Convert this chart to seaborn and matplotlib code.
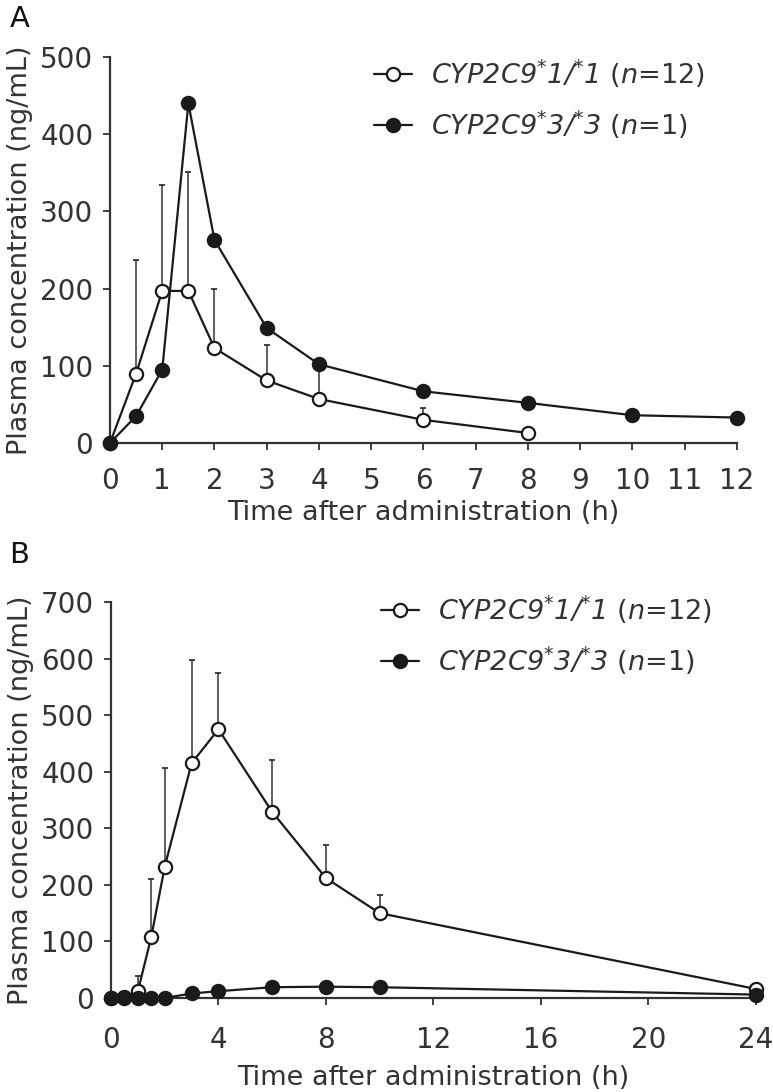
import numpy as np
import pandas as pd
import matplotlib
matplotlib.use("Agg")
import matplotlib.pyplot as plt
import seaborn as sns

# ---------------- data ----------------
A_t_wt = [0, 0.5, 1, 1.5, 2, 3, 4, 6, 8]
A_wt = [0, 90, 197, 197, 123, 81, 57, 30, 13]
A_wt_upper = [0, 237, 334, 351, 200, 127, 94, 45, 13]

A_t_m = [0, 0.5, 1, 1.5, 2, 3, 4, 6, 8, 10, 12]
A_m = [0, 35, 95, 440, 263, 149, 102, 67, 52, 36, 33]

B_t_wt = [0, 0.5, 1, 1.5, 2, 3, 4, 6, 8, 10, 24]
B_wt = [0, 2, 12, 108, 232, 415, 475, 329, 212, 150, 16]
B_wt_upper = [0, 2, 38, 210, 406, 597, 575, 421, 271, 182, 16]

B_t_m = [0, 0.5, 1, 1.5, 2, 3, 4, 6, 8, 10, 24]
B_m = [0, 0, 0, 0, 0, 8, 12, 19, 20, 19, 6]

A_xticks = list(range(0, 13))
A_yticks = [0, 100, 200, 300, 400, 500]
B_xticks = [0, 4, 8, 12, 16, 20, 24]
B_yticks = [0, 100, 200, 300, 400, 500, 600, 700]

label_wt = r"$CYP2C9^{*}1/^{*}1$ ($n$=12)"
label_m = r"$CYP2C9^{*}3/^{*}3$ ($n$=1)"
xlabel = "Time after administration (h)"
ylabel = "Plasma concentration (ng/mL)"

# ---------------- style ----------------
sns.set_theme(style="ticks")
plt.rcParams["font.family"] = ["DejaVu Sans"]
plt.rcParams["mathtext.fontset"] = "custom"
plt.rcParams["mathtext.rm"] = "DejaVu Sans:italic"
plt.rcParams["mathtext.it"] = "DejaVu Sans:italic"
plt.rcParams["mathtext.bf"] = "DejaVu Sans:italic:bold"

INK = "#1a1a1a"
TXT = "#333333"
W, H = 773, 1092
fig = plt.figure(figsize=(W / 100, H / 100), dpi=100)
axA = fig.add_axes([0.1423, 0.5943, 0.811, 0.3535])
axB = fig.add_axes([0.1436, 0.0861, 0.834, 0.3626])


def draw(ax, t_wt, wt, wt_up, t_m, m, xlim, ylim, xticks, yticks, xpad, xlpad):
    wt = np.asarray(wt, float)
    up = np.asarray(wt_up, float) - wt
    ax.errorbar(t_wt, wt, yerr=[np.zeros_like(up), up], fmt="none",
                ecolor="#333333", elinewidth=1.1, capsize=2.5, capthick=1.3,
                zorder=2, clip_on=False)
    dfw = pd.DataFrame({"t": t_wt, "c": wt})
    dfm = pd.DataFrame({"t": t_m, "c": m})
    sns.lineplot(data=dfw, x="t", y="c", ax=ax, color=INK, lw=1.6,
                 marker="o", markersize=9.5, markerfacecolor="white",
                 markeredgecolor=INK, markeredgewidth=1.6, label=label_wt,
                 zorder=3, clip_on=False)
    sns.lineplot(data=dfm, x="t", y="c", ax=ax, color=INK, lw=1.6,
                 marker="o", markersize=9.5, markerfacecolor=INK,
                 markeredgecolor=INK, markeredgewidth=1.6, label=label_m,
                 zorder=4, clip_on=False)
    ax.set_xlim(*xlim)
    ax.set_ylim(*ylim)
    ax.set_xticks(xticks)
    ax.set_yticks(yticks)
    ax.tick_params(axis="both", labelsize=20, colors=TXT,
                   length=5, width=1.3, direction="out")
    ax.tick_params(axis="x", pad=xpad)
    ax.tick_params(axis="y", pad=7)
    for s in ["top", "right"]:
        ax.spines[s].set_visible(False)
    for s in ["left", "bottom"]:
        ax.spines[s].set_linewidth(1.6)
        ax.spines[s].set_color("#333333")
    ax.set_xlabel(xlabel, fontsize=19.5, color=TXT, labelpad=xlpad)
    ax.set_ylabel(ylabel, fontsize=19.5, color=TXT, labelpad=5)
    ax.grid(False)


draw(axA, A_t_wt, A_wt, A_wt_upper, A_t_m, A_m, (0, 12), (0, 500),
     A_xticks, A_yticks, 12, 4)
draw(axB, B_t_wt, B_wt, B_wt_upper, B_t_m, B_m, (0, 24), (0, 700),
     B_xticks, B_yticks, 15, 8)


def put_legend(ax, left_px, top_px):
    ax.legend(loc="upper left", bbox_to_anchor=(left_px / W, 1 - top_px / H),
              bbox_transform=fig.transFigure, frameon=False,
              fontsize=19.5, handlelength=1.4, handletextpad=0.7,
              labelspacing=0.7, borderpad=0, borderaxespad=0,
              labelcolor=TXT)


put_legend(axA, 374, 57)
put_legend(axB, 381, 593)

fig.text(0.012, 0.9955, "A", fontsize=21, va="top", ha="left", color="#111111")
fig.text(0.012, 0.505, "B", fontsize=21, va="top", ha="left", color="#111111")

fig.savefig("out.png", dpi=100)
